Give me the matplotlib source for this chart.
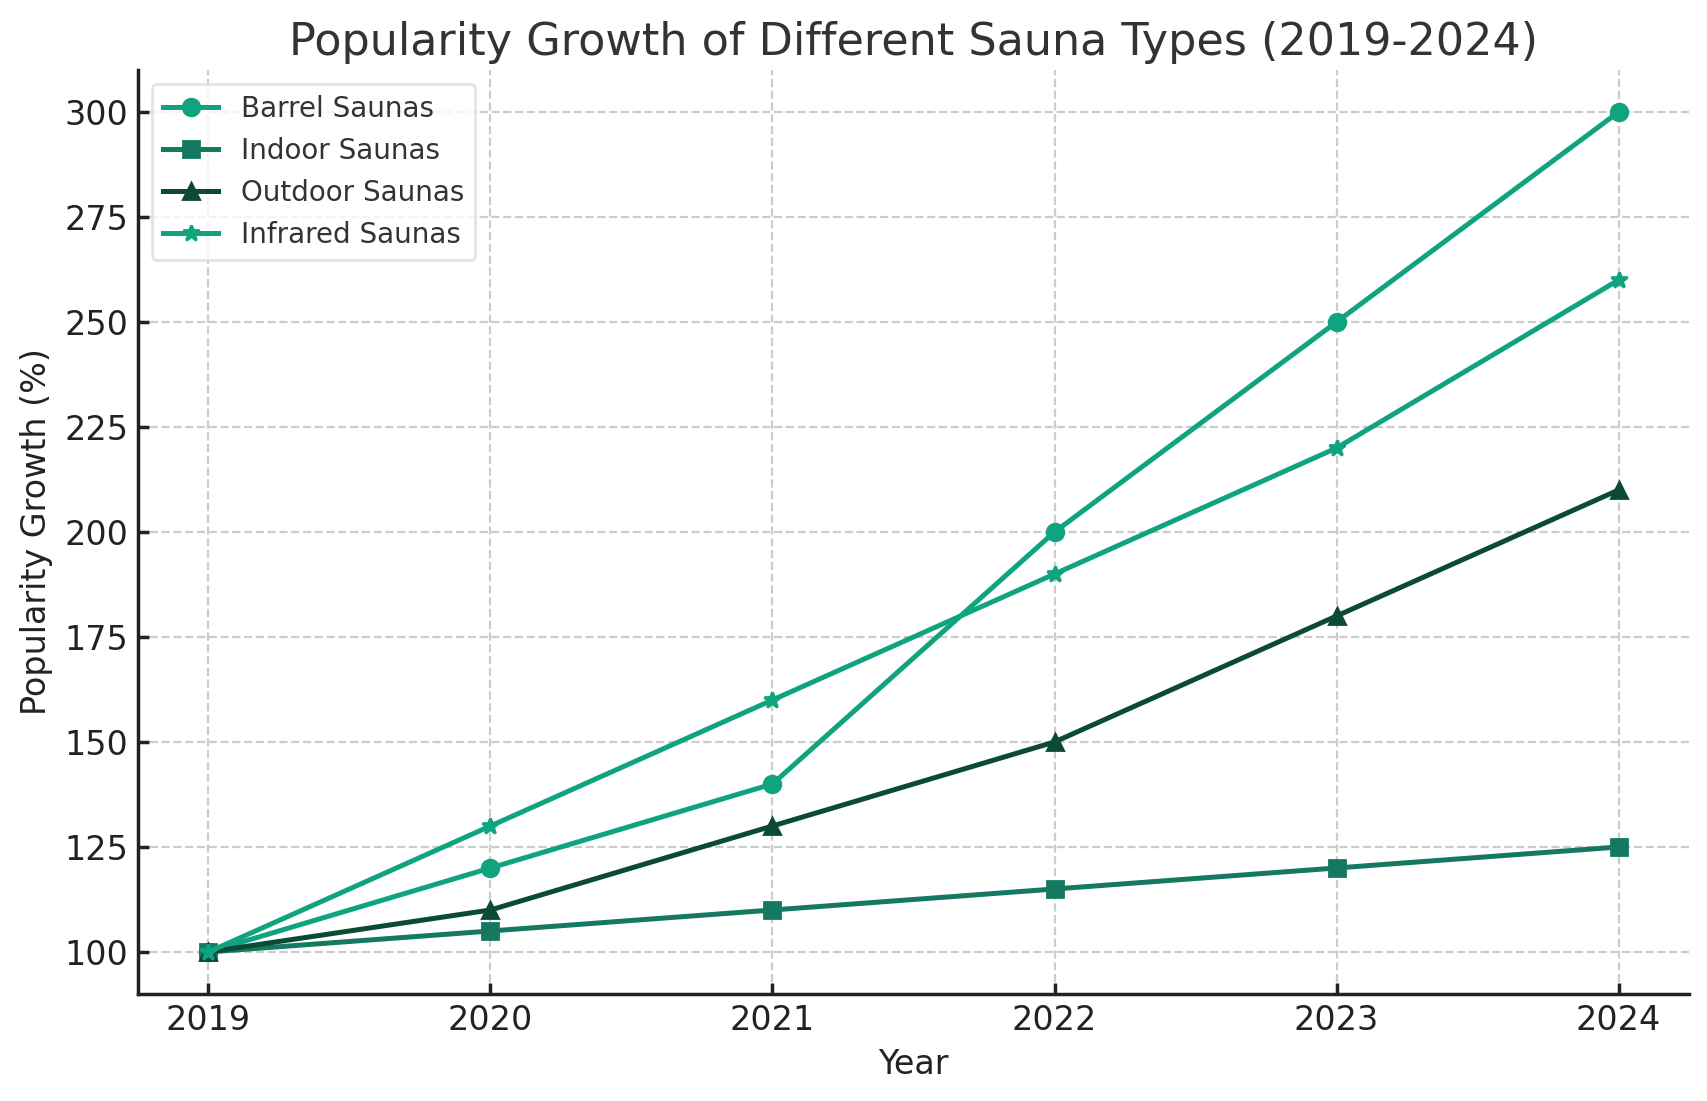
import matplotlib
matplotlib.use("Agg")
import matplotlib.pyplot as plt

years = [2019, 2020, 2021, 2022, 2023, 2024]
barrel = [100, 120, 140, 200, 250, 300]
indoor = [100, 105, 110, 115, 120, 125]
outdoor = [100, 110, 130, 150, 180, 210]
infrared = [100, 130, 160, 190, 220, 260]

plt.rcParams['font.family'] = 'DejaVu Sans'
plt.rcParams['font.size'] = 12

fig = plt.figure(figsize=(8.535, 5.505), dpi=200)
ax = fig.add_axes([0.0808, 0.0972, 0.9087, 0.8392])

ax.plot(years, barrel, marker='o', color='#10a37f', lw=1.8, ms=6, label='Barrel Saunas')
ax.plot(years, indoor, marker='s', color='#147960', lw=1.8, ms=6, label='Indoor Saunas')
ax.plot(years, outdoor, marker='^', color='#0b4a35', lw=1.8, ms=6, label='Outdoor Saunas')
ax.plot(years, infrared, marker='*', color='#10a37f', lw=1.8, ms=6, label='Infrared Saunas')

ax.set_title('Popularity Growth of Different Sauna Types (2019-2024)', fontsize=16, color='#333333', pad=5.5)
ax.set_xlabel('Year', fontsize=12, color='#222222')
ax.set_ylabel('Popularity Growth (%)', fontsize=12, color='#222222')
ax.set_xticks(years)

ax.grid(True, linestyle='--', color='#cccccc', lw=0.8)
ax.set_axisbelow(True)
for s in ['top', 'right']:
    ax.spines[s].set_visible(False)
for s in ['left', 'bottom']:
    ax.spines[s].set_linewidth(1.25)
    ax.spines[s].set_color('#222222')
ax.tick_params(direction='in', length=3.8, width=1.25, labelsize=12, colors='#222222')

leg = ax.legend(loc='upper left', fontsize=10, frameon=True)
leg.get_frame().set_edgecolor('#dddddd')
for t in leg.get_texts():
    t.set_color('#333333')

fig.savefig('out.png', dpi=200)
